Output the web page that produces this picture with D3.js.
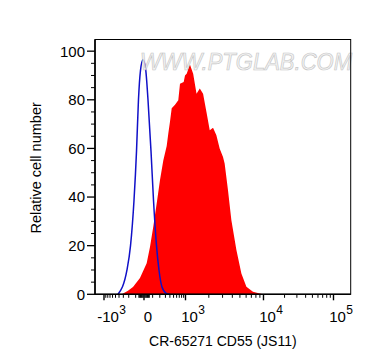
<!DOCTYPE html>
<html><head><meta charset="utf-8">
<script src="https://cdn.jsdelivr.net/npm/d3@7"></script>
<style>body{margin:0;background:#fff}svg{display:block}text{font-family:"Liberation Sans",Arial,sans-serif;fill:#000}</style>
</head><body><svg id="c" width="374" height="364"></svg>
<script>
// ---- data ----
const blueX = [-427,-230,-172,-122,-89,-65,-41,-12,17,45,80,111,151,187,236,311,402];
const blueY = [0,10,20,38.7,59,80,92,96.5,93,80,59,38.7,20,10,3,0.5,0];
const redX = [-335,-213,-136,-47,30,68,108,154,203,259,326,361,402,447,545,661,730,902,972,1036,1142,1258,1390,1531,1688,1865,2055,2265,2500,2760,3040,3190,3520,3890,4510,5220,6050,7340,8940,9860];
const redY = [0,1.5,3,6.7,12.8,19.5,27.8,37.4,47,55,61,66,71,76.5,78,79.8,86.6,87.3,90,90.7,94.5,90.7,82.5,84.6,82.5,75,67.5,68.5,65.4,59.9,56.5,53.8,42.8,30.5,18.2,8.6,3.1,1.1,0.3,0];
const xMajor = [-1000,0,1000,10000,100000];
const xMajorLabels = [["-10","3"],["0",""],["10","3"],["10","4"],["10","5"]];
const xMinor = [-900,-800,-700,-600,-500,-400,-300,-200,-100,-60,-50,-40,-30,-20,-10,10,20,30,40,50,60,100,200,300,400,500,600,700,800,900,2000,3000,4000,5000,6000,7000,8000,9000,20000,30000,40000,50000,60000,70000,80000,90000];
const yMajor = [0,20,40,60,80,100];
const yMinor = [5,10,15,25,30,35,45,50,55,65,70,75,85,90,95];
const xTitle = "CR-65271 CD55 (JS11)";
const yTitle = "Relative cell number";
const watermark = "WWW.PTGLAB.COM";

// ---- layout ----
const L = 95, T0 = 39.5, R = 350.7, B = 294.3;
const W = R - L, H = B - T0;
const svg = d3.select("#c");
const g = svg.append("g").attr("transform", `translate(${L},${T0})`);

const tr = v => Math.asinh(v / 200);
const xl = d3.scaleLinear()
  .domain([tr(-1000), tr(0), tr(1000), tr(10000), tr(100000)])
  .range([0.0352 * W, 0.1916 * W, 0.3539 * W, 0.6589 * W, 0.9327 * W]);
const x = v => xl(tr(v));
const y = d3.scaleLinear().domain([0, 104.8]).range([H, 0]);

const blue = blueX.map((v, i) => ({v, c: blueY[i]}));
const red = redX.map((v, i) => ({v, c: redY[i]}));

g.append("clipPath").attr("id", "clip").append("rect").attr("width", W).attr("height", H);
const plot = g.append("g").attr("clip-path", "url(#clip)");

plot.append("path").datum(red)
  .attr("d", d3.area().x(d => x(d.v)).y0(y(0)).y1(d => y(d.c)))
  .attr("fill", "#ff0000");
plot.append("path").datum(blue)
  .attr("d", d3.line().x(d => x(d.v)).y(d => y(d.c)).curve(d3.curveMonotoneX))
  .attr("fill", "none").attr("stroke", "#1010c8").attr("stroke-width", 1.5);

// watermark
g.append("text").attr("x", 140 - L).attr("y", 70 - T0)
  .attr("textLength", 212).attr("lengthAdjust", "spacingAndGlyphs")
  .style("font-size", "24px").style("font-style", "italic")
  .style("fill", "#f2f2f2").style("stroke", "#bdbdbd").style("stroke-width", 0.7)
  .style("opacity", 0.85).text(watermark);

// frame
g.append("rect").attr("width", W).attr("height", H).attr("fill", "none").attr("stroke", "#000").attr("stroke-width", 1);
g.append("line").attr("x1", 0).attr("x2", 0).attr("y1", 0).attr("y2", H).attr("stroke", "#000").attr("stroke-width", 1.6);
g.append("line").attr("x1", 0).attr("x2", W).attr("y1", H).attr("y2", H).attr("stroke", "#000").attr("stroke-width", 1.6);

// y ticks
yMajor.forEach(v => {
  g.append("line").attr("x1", -8).attr("x2", 0).attr("y1", y(v)).attr("y2", y(v)).attr("stroke", "#000").attr("stroke-width", 1.3);
  g.append("text").attr("x", -10).attr("y", y(v)).attr("dy", "0.36em").attr("text-anchor", "end")
    .style("font-size", "15px").text(v);
});
yMinor.forEach(v => {
  g.append("line").attr("x1", -4).attr("x2", 0).attr("y1", y(v)).attr("y2", y(v)).attr("stroke", "#000").attr("stroke-width", 1);
});

// x ticks
xMajor.forEach((v, i) => {
  const px = x(v);
  g.append("line").attr("x1", px).attr("x2", px).attr("y1", H).attr("y2", H + 6).attr("stroke", "#000").attr("stroke-width", 1.4);
  const [base, sup] = xMajorLabels[i];
  const t = g.append("text").attr("x", px + 4).attr("y", H + 28).attr("text-anchor", "middle")
    .style("font-size", "15px").text(base);
  if (sup) {
    const w = t.node().getComputedTextLength();
    g.append("text").attr("x", px + 4 + w / 2 + 0.5).attr("y", H + 20)
      .style("font-size", "12px").text(sup);
  }
});
xMinor.forEach(v => {
  const px = x(v);
  g.append("line").attr("x1", px).attr("x2", px).attr("y1", H).attr("y2", H + 3.5).attr("stroke", "#000").attr("stroke-width", 1);
});

// titles
g.append("text").attr("x", W / 2).attr("y", 345.5 - T0).attr("text-anchor", "middle")
  .style("font-size", "14px").text(xTitle);
svg.append("text").attr("transform", `translate(41,${(T0 + B) / 2 + 1}) rotate(-90)`).attr("text-anchor", "middle")
  .style("font-size", "14.5px").text(yTitle);
</script></body></html>
